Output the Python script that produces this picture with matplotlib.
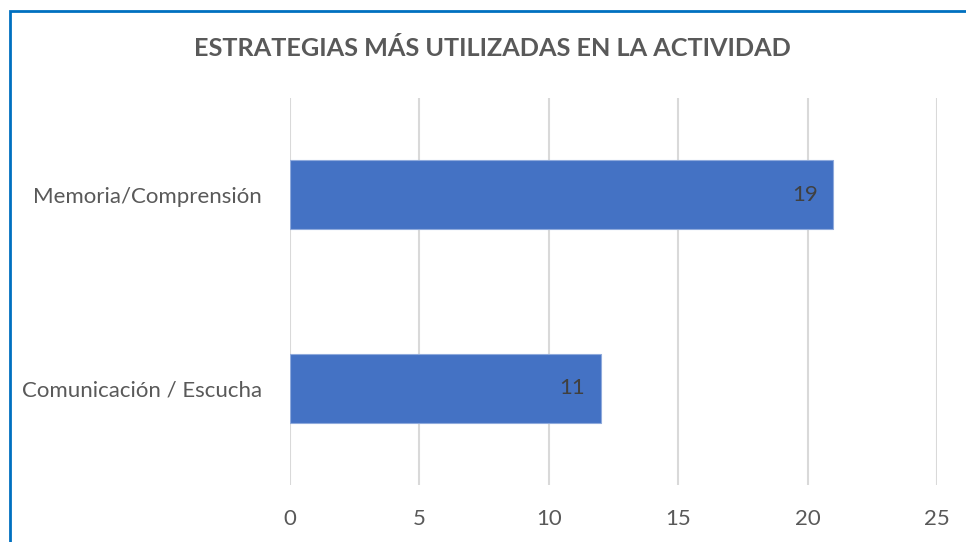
import matplotlib.pyplot as plt
from matplotlib.patches import Rectangle

# Data (bar lengths as drawn, and the labels printed on the bars)
categories = ["Comunicación / Escucha", "Memoria/Comprensión"]
bar_values = [12, 21]
bar_labels = ["11", "19"]
x_ticks = [0, 5, 10, 15, 20, 25]

plt.rcParams['font.family'] = ['Lato', 'DejaVu Sans']

fig = plt.figure(figsize=(9.66, 5.42), dpi=100)
ax = fig.add_axes([0.3002, 0.1052, 0.6698, 0.714])

ypos = list(range(len(categories)))
ax.barh(ypos, bar_values, height=0.357, color="#4472C4",
        edgecolor="#8FAADC", linewidth=0.8, zorder=3)

for y, v, lab in zip(ypos, bar_values, bar_labels):
    ax.annotate(lab, xy=(v, y), xytext=(-16, 0), textcoords='offset pixels',
                ha='right', va='center', fontsize=16, color="#404040", zorder=4)

ax.set_xlim(0, 25)
ax.set_ylim(-0.5, 1.5)
ax.set_xticks(x_ticks)
ax.set_yticks(ypos)
ax.set_yticklabels(categories)
ax.grid(axis='x', color="#D9D9D9", linewidth=1.5, zorder=0)
ax.set_axisbelow(True)
for s in ax.spines.values():
    s.set_visible(False)
ax.tick_params(axis='both', length=0, labelsize=16, labelcolor="#595959")
ax.tick_params(axis='y', pad=20)
ax.tick_params(axis='x', pad=17)

fig.text(0.51, 0.91, "ESTRATEGIAS MÁS UTILIZADAS EN LA ACTIVIDAD",
         ha='center', va='center', fontsize=18.2, fontweight='bold', color="#595959")

# blue chart frame (cut off at the right and bottom)
fig.patches.append(Rectangle((10 / 966, -0.5), 2.0, 1 - 11 / 542 + 0.5,
                             transform=fig.transFigure, fill=False,
                             edgecolor="#0070C0", linewidth=2))

fig.savefig("out.png", dpi=100)
